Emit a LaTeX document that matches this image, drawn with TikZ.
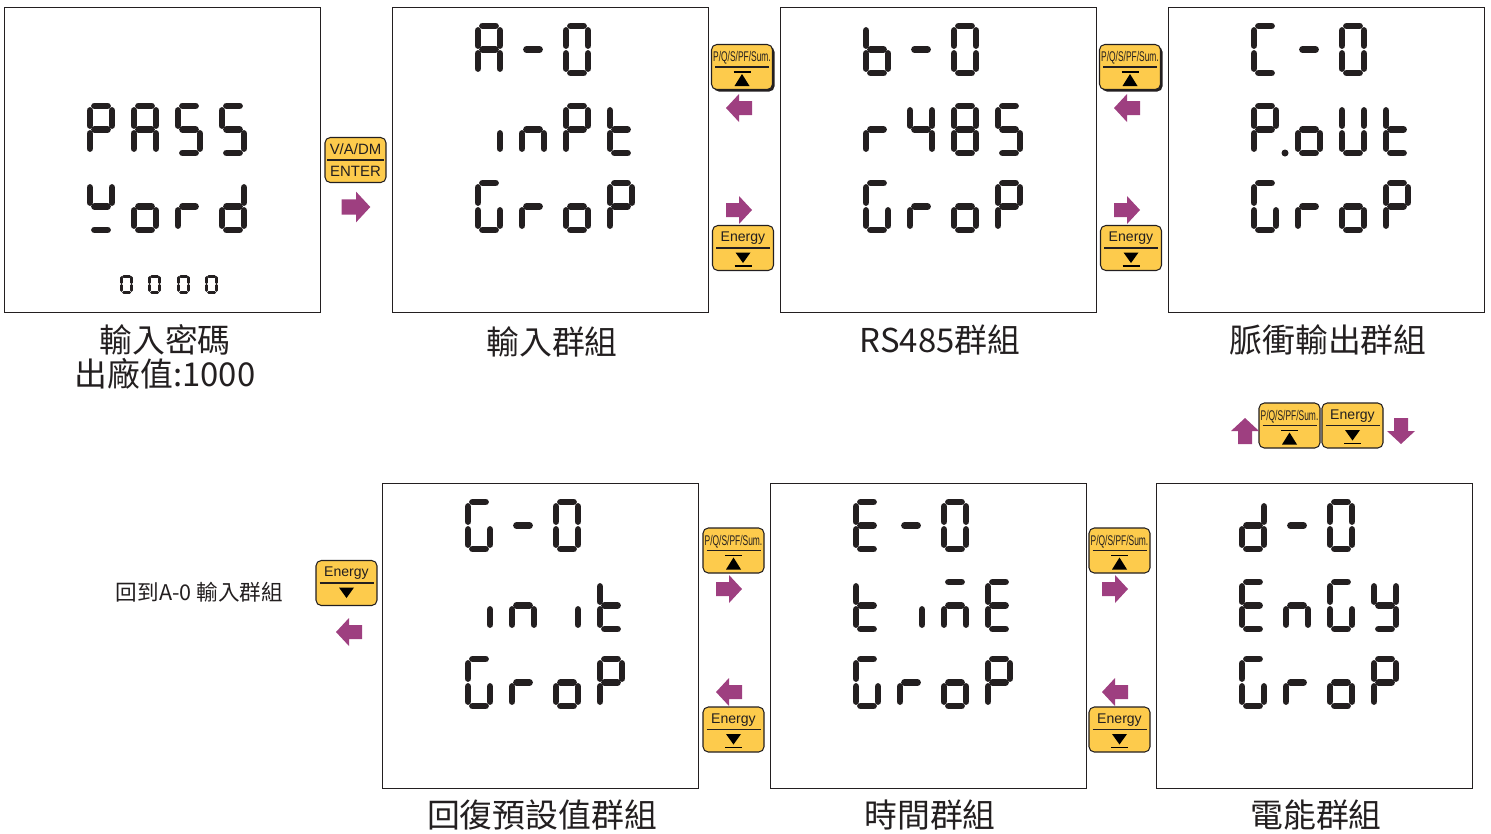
\documentclass[tikz,border=0pt]{standalone}
\usepackage{fontspec}
\usepackage{graphicx}
\setmainfont{Noto Sans CJK TC}
\newfontfamily\keyfont{Liberation Sans}
\definecolor{keyyellow}{RGB}{253,203,76}
\definecolor{navpurple}{RGB}{158,63,128}
\definecolor{inkgray}{RGB}{35,31,32}

\newcommand\lcda{\draw[lcdseg] (7.5,3) -- (20.5,3);}
\newcommand\lcdb{\draw[lcdseg] (25,7.5) -- (25,22.5);}
\newcommand\lcdc{\draw[lcdseg] (25,30.5) -- (25,45.5);}
\newcommand\lcdd{\draw[lcdseg] (7.5,50) -- (20.5,50);}
\newcommand\lcde{\draw[lcdseg] (3,30.5) -- (3,45.5);}
\newcommand\lcdf{\draw[lcdseg] (3,7.5) -- (3,22.5);}
\newcommand\lcdg{\draw[lcdseg] (7.5,26.5) -- (20.5,26.5);}
\newcommand\lcdp{\fill[inkgray] (34,50) circle[radius=0.07cm];}
\newcommand\glyphdef[2]{\expandafter\def\csname glyph#1\endcsname{\foreach \s in {#2}{\csname lcd\s\endcsname}}}
\glyphdef{A}{a,b,c,e,f,g}
\glyphdef{-}{g}
\glyphdef{0}{a,b,c,d,e,f}
\glyphdef{P}{a,b,e,f,g}
\glyphdef{P.}{a,b,e,f,g,p}
\glyphdef{S}{a,c,d,f,g}
\glyphdef{Yw}{b,d,f,g}
\glyphdef{y}{b,c,d,f,g}
\glyphdef{o}{c,d,e,g}
\glyphdef{r}{e,g}
\glyphdef{d}{b,c,d,e,g}
\glyphdef{i}{c}
\glyphdef{n}{c,e,g}
\glyphdef{t}{d,e,f,g}
\glyphdef{b}{c,d,e,f,g}
\glyphdef{4}{b,c,f,g}
\glyphdef{8}{a,b,c,d,e,f,g}
\glyphdef{C}{a,d,e,f}
\glyphdef{U}{b,c,d,e,f}
\glyphdef{G}{a,c,d,e,f}
\glyphdef{E}{a,d,e,f,g}
\glyphdef{m}{a,c,e,g}
\newcommand\lcdrow[3]{\foreach \gl [count=\idx from 0] in {#3}{%
  \begin{scope}[shift={({#1+44*\idx},#2)}]\csname glyph\gl\endcsname\end{scope}}}

\newcommand\pqkey[4][]{%
  \begin{scope}[shift={(#3,#4)}]
    \path[#1] (-28.5,-20.5) rectangle (32.5,24.5);
    \node[keycap] (#2) at (0,0) {};
    \draw[keyrule] (-27,0) -- (27,0);
    \node[keylabel] at (0,-9) {\scalebox{0.6}[1]{P/Q/S/PF/Sum.}};
    \draw[keybar] (-8.5,5) -- (8.5,5);
    \fill (-7.5,19) -- (7.5,19) -- (0,7) -- cycle;
  \end{scope}}
\newcommand\enkey[4][keybar]{%
  \begin{scope}[shift={(#3,#4)}]
    \node[keycap] (#2) at (0,0) {};
    \draw[keyrule] (-27,0) -- (27,0);
    \node[keylabel] at (0,-9.5) {Energy};
    \draw[#1] (-8.5,18) -- (8.5,18);
    \fill (-7.5,4.5) -- (7.5,4.5) -- (0,15) -- cycle;
  \end{scope}}

\begin{document}
\begin{tikzpicture}[x=0.02cm, y=-0.02cm,
  lcdseg/.style={draw=inkgray, line width=0.136cm, line cap=round},
  lcdbox/.style={draw=inkgray, line width=0.8pt, minimum width=6.32cm, minimum height=6.1cm, inner sep=0, anchor=north west},
  keycap/.style={draw=inkgray, line width=0.6pt, fill=keyyellow, rounded corners=3pt, minimum width=1.22cm, minimum height=0.9cm, inner sep=0},
  keyrule/.style={draw=inkgray, line width=0.7pt},
  keybar/.style={draw=black, line width=1pt},
  keylabel/.style={font=\keyfont\fontsize{8}{9}\selectfont, text=inkgray, inner sep=0},
  caption/.style={font=\fontsize{18.7}{19.4}\selectfont, text=inkgray, inner sep=0, align=center},
  keyshade/.style={fill=inkgray, rounded corners=3pt},
  navarrow/.pic={\fill[navpurple] (-13,-7) -- (0,-7) -- (0,-14) -- (13,0) -- (0,14) -- (0,7) -- (-13,7) -- cycle;}]
  \useasboundingbox (0,0) rectangle (1491,833);

  \node[lcdbox] (pass) at (4,7) {};
  \node[lcdbox] (input) at (392,7) {};
  \node[lcdbox] (rs485) at (780,7) {};
  \node[lcdbox] (pulse) at (1168,7) {};
  \node[lcdbox] (reset) at (382,483) {};
  \node[lcdbox] (clock) at (770,483) {};
  \node[lcdbox] (energy) at (1156,483) {};

  \lcdrow{87}{103}{P,A,S,S}
  \lcdrow{87}{180}{Yw,o,r,d}
  \foreach \x in {120,148,177,205}
    \begin{scope}[shift={(\x,275)}, xscale=0.47, yscale=0.34, lcdseg/.style={draw=inkgray, line width=0.06cm, line cap=round}]
      \csname glyph0\endcsname
    \end{scope};
  \lcdrow{475}{23}{A,-,0}
  \lcdrow{475}{103}{i,n,P,t}
  \lcdrow{475}{180}{G,r,o,P}
  \lcdrow{863}{23}{b,-,0}
  \lcdrow{863}{103}{r,4,8,S}
  \lcdrow{863}{180}{G,r,o,P}
  \lcdrow{1251}{23}{C,-,0}
  \lcdrow{1251}{103}{P.,o,U,t}
  \lcdrow{1251}{180}{G,r,o,P}
  \lcdrow{465}{499}{G,-,0}
  \lcdrow{465}{579}{i,n,i,t}
  \lcdrow{465}{656}{G,r,o,P}
  \lcdrow{853}{499}{E,-,0}
  \lcdrow{853}{579}{t,i,m,E}
  \lcdrow{853}{656}{G,r,o,P}
  \lcdrow{1239}{499}{d,-,0}
  \lcdrow{1239}{579}{E,n,G,y}
  \lcdrow{1239}{656}{G,r,o,P}

  \node[caption] (passcap) at (165,357) {輸入密碼\\出廠值:1000};
  \node[caption] (inputcap) at (552,342) {輸入群組};
  \node[caption] (rs485cap) at (940,340) {RS485群組};
  \node[caption] (pulsecap) at (1328,340) {脈衝輸出群組};
  \node[caption] (resetcap) at (542,815) {回復預設值群組};
  \node[caption] (clockcap) at (930,815) {時間群組};
  \node[caption] (energycap) at (1316,815) {電能群組};
  \node[caption, font=\fontsize{12.3}{14}\selectfont] (backcap) at (199.5,592) {回到A-0 輸入群組};

  \node[keycap] (enter) at (355.5,160) {};
  \draw[keyrule] (327,160) -- (384,160);
  \node[keylabel, font=\keyfont\fontsize{8.5}{9}\selectfont] at (355.5,149) {V/A/DM};
  \node[keylabel, font=\keyfont\fontsize{8.5}{9}\selectfont] at (355.5,171) {ENTER};
  \pic[scale=1.1] at (356,207) {navarrow};

  \pqkey[keyshade]{upA}{742}{67}
  \enkey{downA}{743}{248}
  \pic[rotate=180] at (739,108) {navarrow};
  \pic at (739,210) {navarrow};
  \pqkey[keyshade]{upB}{1130}{67}
  \enkey{downB}{1131}{248}
  \pic[rotate=180] at (1127,108) {navarrow};
  \pic at (1127,210) {navarrow};

  \pqkey{upC}{1289.5}{425.5}
  \enkey{downC}{1352.5}{425.5}
  \pic[rotate=90] at (1245,431) {navarrow};
  \pic[rotate=-90] at (1401,431) {navarrow};

  \enkey[draw=none]{downD}{346.5}{583}
  \pic[rotate=180] at (349,632) {navarrow};
  \pqkey{upE}{733.5}{550.5}
  \enkey{downE}{733.5}{729.5}
  \pic at (729,589) {navarrow};
  \pic[rotate=180] at (729,692) {navarrow};
  \pqkey{upF}{1119.5}{550.5}
  \enkey{downF}{1119.5}{729.5}
  \pic at (1115,589) {navarrow};
  \pic[rotate=180] at (1115,692) {navarrow};
\end{tikzpicture}
\end{document}
